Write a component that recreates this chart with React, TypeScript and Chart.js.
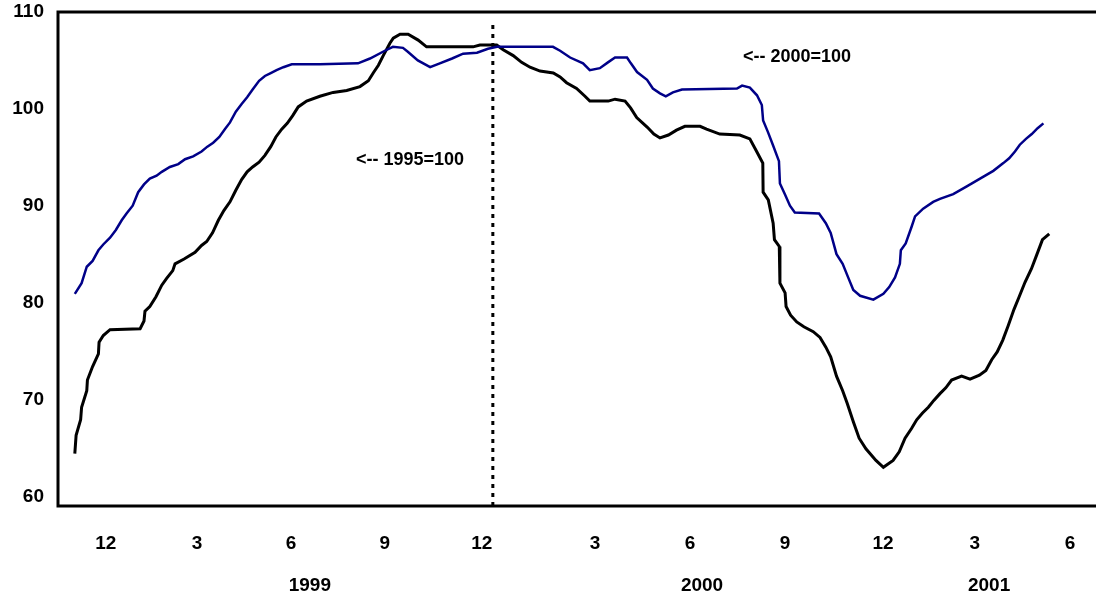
import React, { useEffect, useRef } from "react";
import { Chart, registerables } from "chart.js";

Chart.register(...registerables);

// x values: time position in months, counted from Jan 1999 (0 = Jan 1999)
const blueMonths = [
  -2.18, -1.97, -1.81, -1.63, -1.45, -1.3, -1.09, -0.91, -0.73, -0.58, -0.39, -0.22, -0.04, 0.14, 0.35, 0.51,
  0.76, 1.02, 1.23, 1.48, 1.74, 1.92, 2.1, 2.29, 2.46, 2.62, 2.8, 2.98, 3.15, 3.32, 3.52, 3.7, 3.88, 4.06,
  4.27, 4.53, 5.4, 6.58, 6.95, 7.41, 7.66, 7.97, 8.12, 8.43, 8.81, 9.11, 9.49, 9.83, 10.26, 10.6, 10.88,
  12.61, 12.83, 13.14, 13.54, 13.75, 14.06, 14.31, 14.53, 14.9, 15.02, 15.21, 15.52, 15.7, 15.92, 16.1,
  16.32, 16.6, 18.3, 18.46, 18.7, 18.92, 19.07, 19.11, 19.26, 19.41, 19.6, 19.63, 19.78, 19.94, 20.09,
  20.84, 21.05, 21.2, 21.38, 21.57, 21.74, 21.9, 22.11, 22.52, 22.83, 23.01, 23.19, 23.34, 23.37, 23.52,
  23.7, 23.81, 24.06, 24.37, 24.58, 24.99, 25.41, 25.82, 26.23, 26.54, 26.72, 26.9, 27.05, 27.24, 27.42,
  27.6, 27.78,
];
const blueValues = [
  80.9, 82.0, 83.7, 84.3, 85.4, 86.0, 86.7, 87.5, 88.5, 89.2, 90.0, 91.4, 92.2, 92.8, 93.1, 93.5,
  94.0, 94.3, 94.8, 95.1, 95.6, 96.1, 96.5, 97.1, 97.9, 98.6, 99.7, 100.5, 101.2, 102.0, 102.9, 103.4, 103.7, 104.0,
  104.3, 104.6, 104.6, 104.7, 105.2, 106.0, 106.4, 106.3, 105.9, 105.0, 104.3, 104.7, 105.2, 105.7, 105.8, 106.2, 106.4,
  106.4, 106.0, 105.3, 104.7, 104.0, 104.2, 104.8, 105.3, 105.3, 104.7, 103.8, 103.0, 102.1, 101.6, 101.3,
  101.7, 102.0, 102.1, 102.4, 102.2, 101.4, 100.4, 98.8, 97.6, 96.3, 94.6, 92.3, 91.2, 90.0, 89.3,
  89.2, 88.2, 87.2, 85.0, 84.0, 82.6, 81.3, 80.7, 80.3, 80.9, 81.6, 82.6, 84.0, 85.4, 86.1,
  87.8, 88.9, 89.7, 90.4, 90.7, 91.2, 92.0, 92.8, 93.6, 94.4, 94.9, 95.6, 96.3, 96.9, 97.4,
  98.0, 98.5,
];

const blackMonths = [
  -2.18, -2.14, -2.0, -1.97, -1.81, -1.79, -1.63, -1.45, -1.43, -1.3, -1.09, -0.16, -0.04, -0.01, 0.14, 0.33,
  0.51, 0.66, 0.85, 0.92, 1.2, 1.54, 1.74, 1.9, 2.08, 2.26, 2.43, 2.62, 2.8, 2.98, 3.15, 3.32, 3.52, 3.7,
  3.88, 4.04, 4.22, 4.39, 4.56, 4.73, 4.99, 5.4, 5.81, 6.23, 6.64, 6.9, 7.05, 7.21, 7.36, 7.57, 7.67, 7.88,
  8.13, 8.44, 8.7, 10.14, 10.35, 10.87, 11.07, 11.38, 11.64, 11.9, 12.21, 12.62, 12.83, 13.03, 13.34, 13.6,
  13.75, 14.32, 14.53, 14.84, 15.01, 15.2, 15.53, 15.73, 15.92, 16.18, 16.43, 16.69, 17.16, 17.36, 17.77,
  18.39, 18.7, 18.91, 19.1, 19.11, 19.27, 19.42, 19.46, 19.61, 19.63, 19.79, 19.82, 19.96, 20.15, 20.37,
  20.66, 20.87, 21.05, 21.2, 21.38, 21.57, 21.71, 21.9, 22.08, 22.29, 22.6, 22.83, 23.13, 23.32, 23.5,
  23.7, 23.86, 24.04, 24.22, 24.39, 24.58, 24.76, 24.94, 25.25, 25.51, 25.8, 26.0, 26.18, 26.35, 26.52,
  26.69, 26.87, 27.03, 27.21, 27.41, 27.57, 27.75, 27.96,
];
const blackValues = [
  64.4, 66.3, 67.9, 69.2, 70.9, 72.0, 73.4, 74.7, 75.9, 76.6, 77.2, 77.3, 78.1, 79.1, 79.6, 80.6,
  81.8, 82.5, 83.3, 84.0, 84.5, 85.2, 85.9, 86.3, 87.2, 88.5, 89.5, 90.4, 91.6, 92.7, 93.5, 94.0, 94.5, 95.2,
  96.1, 97.1, 97.9, 98.5, 99.3, 100.2, 100.8, 101.3, 101.7, 101.9, 102.3, 102.9, 103.7, 104.5, 105.5, 106.8, 107.3, 107.7,
  107.7, 107.1, 106.4, 106.4, 106.6, 106.6, 106.1, 105.5, 104.8, 104.3, 103.9, 103.7, 103.3, 102.7, 102.1, 101.3,
  100.8, 100.8, 101.0, 100.8, 100.1, 99.1, 98.1, 97.4, 97.0, 97.3, 97.8, 98.2, 98.2, 97.9, 97.4,
  97.3, 96.9, 95.6, 94.4, 91.4, 90.6, 88.2, 86.5, 85.8, 82.0, 81.0, 79.6, 78.7, 78.0, 77.5,
  77.0, 76.4, 75.4, 74.4, 72.4, 70.9, 69.6, 67.7, 66.0, 64.9, 63.7, 63.0, 63.7, 64.6, 66.0,
  67.0, 67.9, 68.6, 69.2, 69.9, 70.6, 71.2, 72.0, 72.4, 72.1, 72.5, 73.0, 74.1, 74.9, 76.1,
  77.6, 79.3, 80.6, 82.1, 83.5, 84.9, 86.5, 87.1,
];

const tickPositions = [-1.22, 1.6, 4.51, 7.41, 10.41, 13.91, 16.85, 19.79, 22.82, 25.66, 28.6];
const tickLabels = ["12", "3", "6", "9", "12", "3", "6", "9", "12", "3", "6"];
const yearLabels = ["1999", "2000", "2001"];
const yearCenters = [5.09, 17.22, 26.1];
const yTicks = [60, 70, 80, 90, 100, 110];

const dividerMonth = 10.75;
const noteTexts = ["<-- 1995=100", "<-- 2000=100"];
const noteMonths = [8.19, 20.16];
const noteValues = [94.7, 105.35];

const FONT = "'Liberation Sans', Arial, sans-serif";

export default function App() {
  const ref = useRef<HTMLCanvasElement | null>(null);
  useEffect(() => {
    if (!ref.current) return;
    const extras = {
      id: "extras",
      afterDraw(chart: any) {
        const { ctx, chartArea, scales } = chart;
        ctx.save();
        ctx.strokeStyle = "#000";
        ctx.lineWidth = 3;
        ctx.strokeRect(chartArea.left, chartArea.top, chartArea.right - chartArea.left, chartArea.bottom - chartArea.top);
        ctx.fillStyle = "#000";
        ctx.font = `bold 19px ${FONT}`;
        ctx.textBaseline = "middle";
        ctx.textAlign = "right";
        yTicks.forEach((v) => {
          ctx.fillText(String(v), chartArea.left - 14, scales.y.getPixelForValue(v));
        });
        ctx.textAlign = "center";
        tickPositions.forEach((m, i) => {
          ctx.fillText(tickLabels[i], scales.x.getPixelForValue(m), 544);
        });
        yearLabels.forEach((t, i) => {
          ctx.fillText(t, scales.x.getPixelForValue(yearCenters[i]), 586);
        });
        ctx.font = `bold 18px ${FONT}`;
        noteTexts.forEach((t, i) => {
          ctx.fillText(t, scales.x.getPixelForValue(noteMonths[i]), scales.y.getPixelForValue(noteValues[i]));
        });
        ctx.restore();
      },
    };
    const chart = new Chart(ref.current, {
      type: "line",
      data: {
        datasets: [
          {
            data: blueMonths.map((m, i) => ({ x: m, y: blueValues[i] })),
            borderColor: "#000088",
            borderWidth: 2.5,
            pointRadius: 0,
            tension: 0,
          },
          {
            data: blackMonths.map((m, i) => ({ x: m, y: blackValues[i] })),
            borderColor: "#000000",
            borderWidth: 3,
            pointRadius: 0,
            tension: 0,
          },
          {
            data: [
              { x: dividerMonth, y: 59 },
              { x: dividerMonth, y: 109 },
            ],
            borderColor: "#000000",
            borderWidth: 3,
            borderDash: [4, 5],
            pointRadius: 0,
          },
        ],
      },
      options: {
        animation: false,
        responsive: false,
        maintainAspectRatio: false,
        layout: { padding: { left: 0, right: 10, top: 12, bottom: 0 } },
        plugins: { legend: { display: false }, tooltip: { enabled: false } },
        scales: {
          x: {
            type: "linear",
            min: -2.7,
            max: 29.53,
            grid: { display: false, drawTicks: false },
            border: { display: false },
            afterBuildTicks: (s: any) => {
              s.ticks = tickPositions.map((v) => ({ value: v }));
            },
            afterFit: (s: any) => {
              s.height = 92;
            },
            ticks: { display: false },
          },
          y: {
            min: 59,
            max: 110,
            grid: { display: false, drawTicks: false },
            border: { display: false },
            afterBuildTicks: (s: any) => {
              s.ticks = yTicks.map((v) => ({ value: v }));
            },
            afterFit: (s: any) => {
              s.width = 58;
            },
            ticks: { display: false },
          },
        },
      },
      plugins: [extras],
    } as any);
    return () => chart.destroy();
  }, []);
  return (
    <div style={{ position: "fixed", left: 0, top: 0, width: 1110, height: 598, background: "#fff" }}>
      <canvas ref={ref} width={1110} height={598} style={{ display: "block" }} />
    </div>
  );
}
